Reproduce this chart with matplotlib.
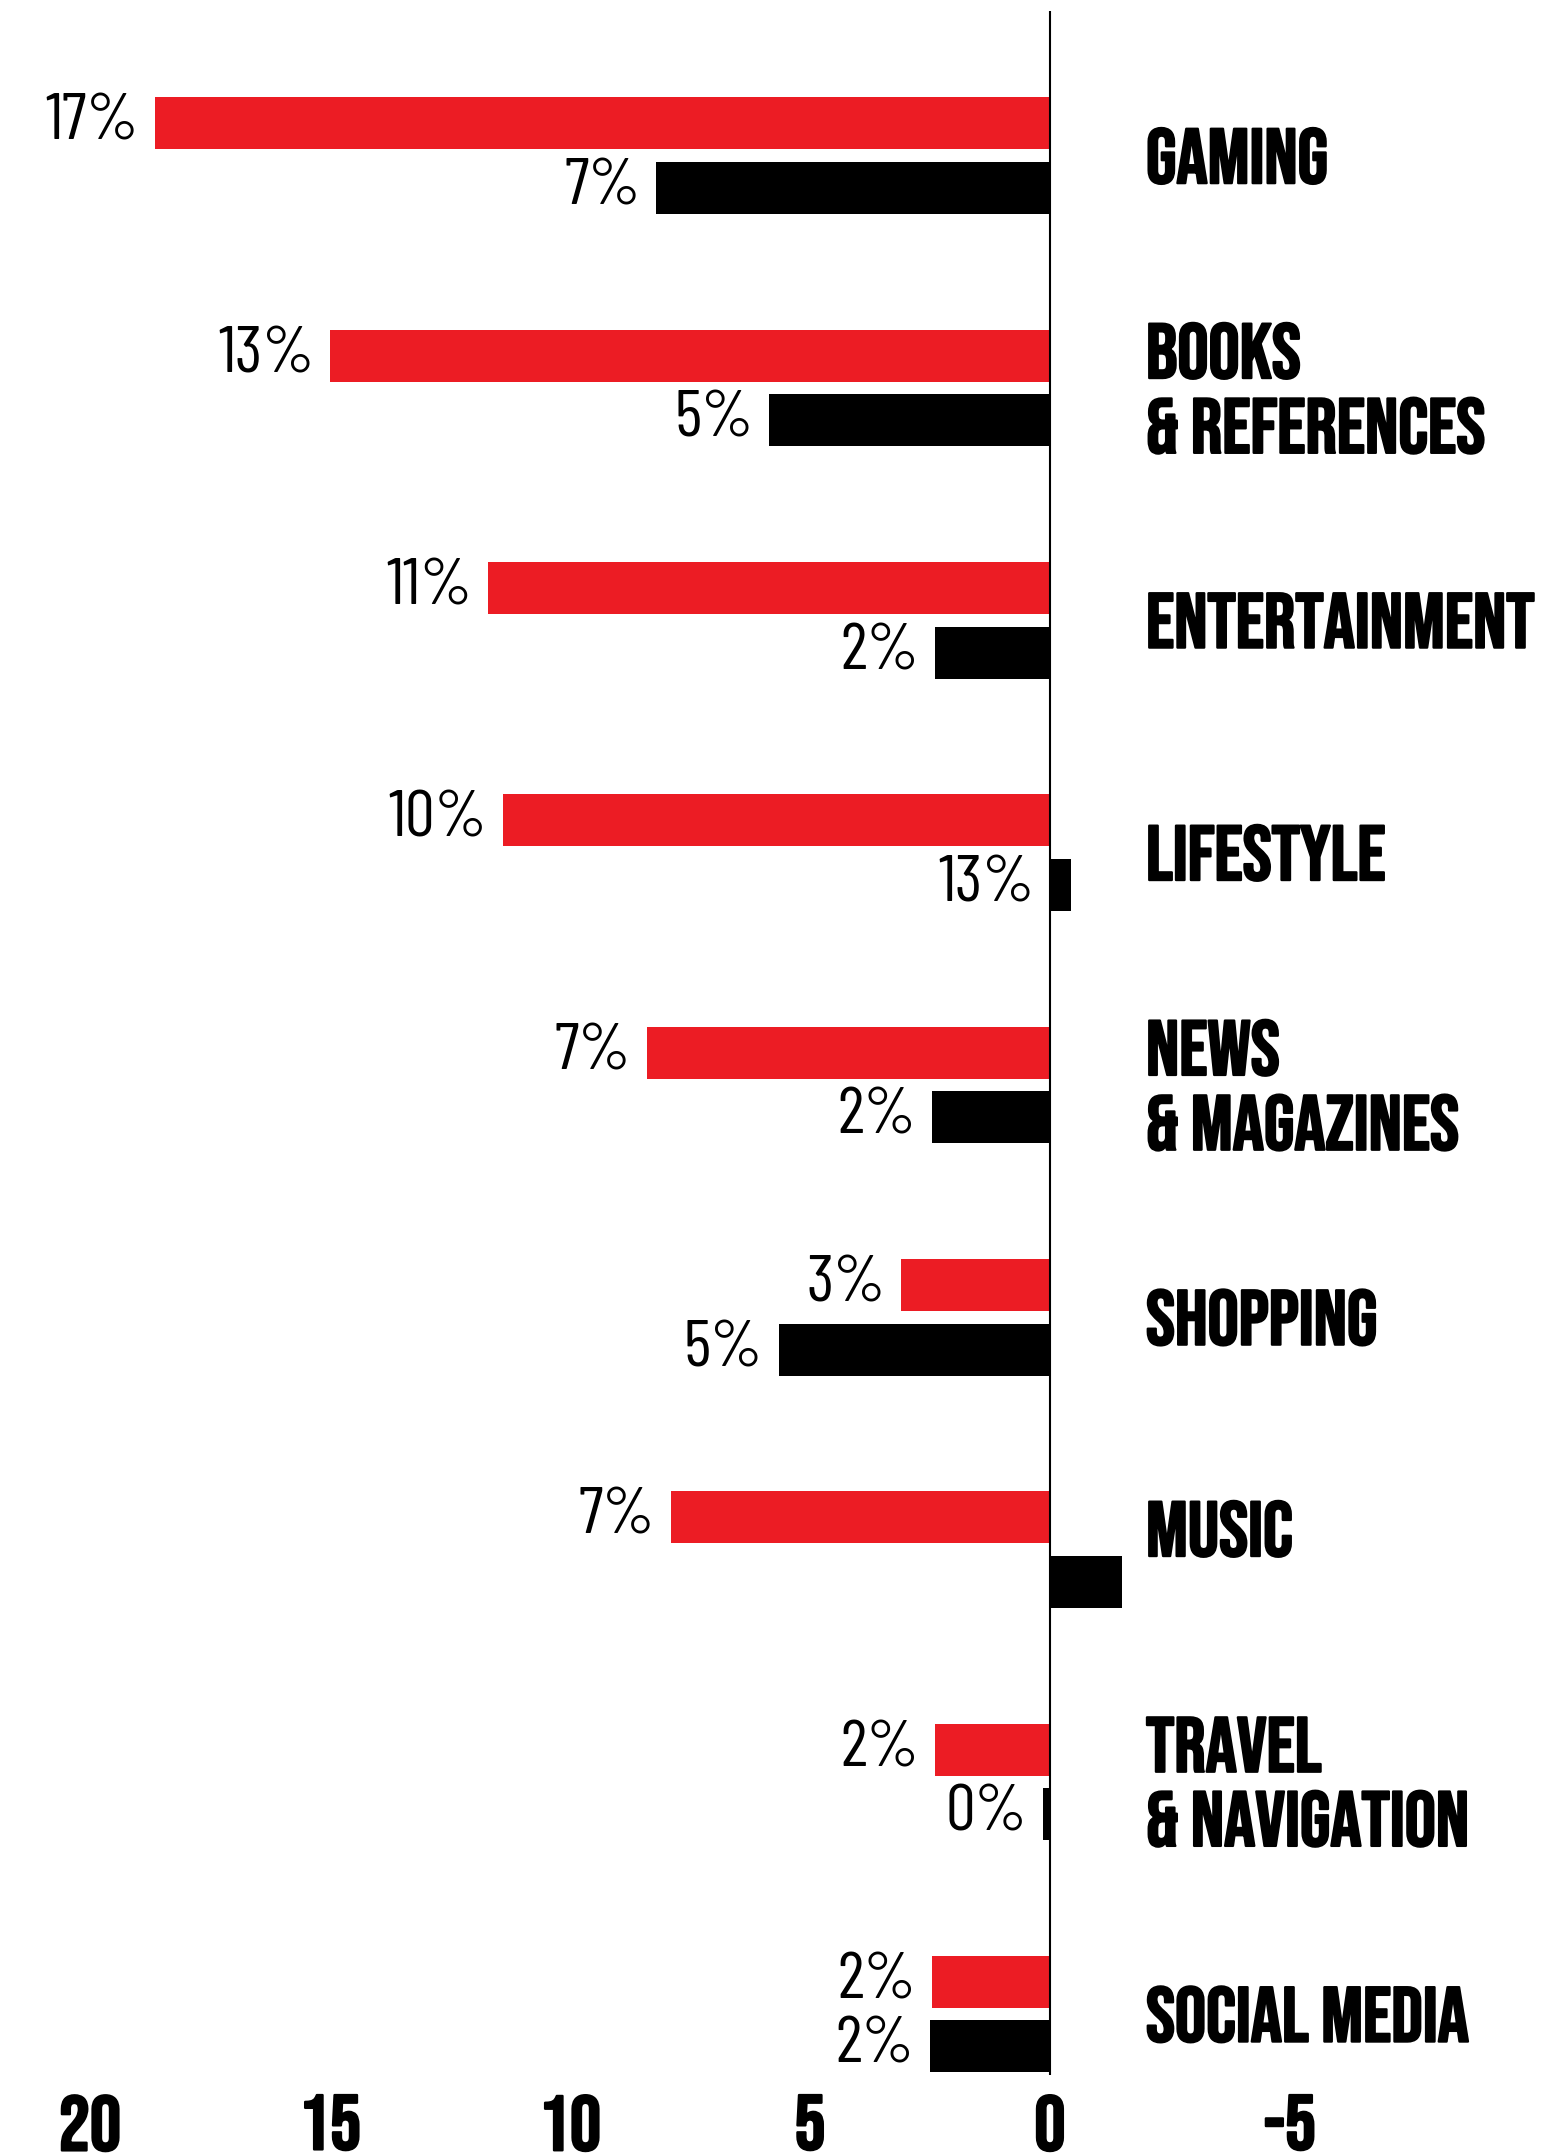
import matplotlib
matplotlib.use("Agg")
import matplotlib.pyplot as plt
import matplotlib.patheffects as pe
import numpy as np
from matplotlib import font_manager

# data (bar lengths on the axis scale, printed labels as shown)
categories = ["GAMING", "BOOKS\n& REFERENCES", "ENTERTAINMENT", "LIFESTYLE",
              "NEWS\n& MAGAZINES", "SHOPPING", "MUSIC", "TRAVEL\n& NAVIGATION",
              "SOCIAL MEDIA"]
red_values = [18.65, 15.0, 11.7, 11.4, 8.4, 3.1, 7.9, 2.4, 2.45]
black_values = [8.2, 5.85, 2.4, -0.43, 2.45, 5.65, -1.5, 0.15, 2.5]
red_labels = ["17%", "13%", "11%", "10%", "7%", "3%", "7%", "2%", "2%"]
black_labels = ["7%", "5%", "2%", "13%", "2%", "5%", "", "0%", "2%"]
xticks = [20, 15, 10, 5, 0, -5]

RED = "#EC1C24"
BLACK = "#000000"

# condensed fonts if present, plain Liberation otherwise
names = {f.name for f in font_manager.fontManager.ttflist}
heavy = [pe.withStroke(linewidth=1.6, foreground="black")]
if "Bebas Neue" in names:
    head = dict(family=["Bebas Neue", "DejaVu Sans"], fontweight="normal", fontsize=56)
    head_ls = 1.32
else:
    head = dict(family=["Liberation Sans", "DejaVu Sans"], fontweight="bold", fontsize=40)
    head_ls = 0.95
if "Barlow Condensed" in names:
    num = dict(family=["Barlow Condensed", "DejaVu Sans"], fontweight="normal", fontsize=48)
else:
    num = dict(family=["Liberation Sans", "DejaVu Sans"], fontweight="normal", fontsize=44)

# MUSIC sits a little higher than its bar pair
label_nudge = {"MUSIC": -0.09}

W, H = 1558, 2155
fig = plt.figure(figsize=(W / 100, H / 100), dpi=100)
ax = fig.add_axes([0, 1 - 2075 / H, 1, (2075 - 11) / H])

y = np.arange(len(categories))
bar_h = 0.224
off = 0.139

ax.barh(y - off, red_values, height=bar_h, color=RED, clip_on=False)
ax.barh(y + off, black_values, height=bar_h, color=BLACK, clip_on=False)
ax.axvline(0, color="black", lw=1.5)

ax.set_xlim(21.875, -10.583)
ax.set_ylim(8.262, -0.623)

pad = 0.33
for yi, v, lab in zip(y - off, red_values, red_labels):
    ax.text(max(v, 0) + pad, yi, lab, ha="right", va="center", color="black", **num)
for yi, v, lab in zip(y + off, black_values, black_labels):
    if lab:
        ax.text(max(v, 0) + pad, yi, lab, ha="right", va="center", color="black", **num)

for yi, cat in zip(y, categories):
    ax.text(-2.0, yi + label_nudge.get(cat, 0), cat, ha="left", va="center",
            linespacing=head_ls, color="black", path_effects=heavy, **head)

ax.set_xticks(xticks)
ax.set_xticklabels([str(t) for t in xticks], **head)
for t in ax.get_xticklabels():
    t.set_path_effects(heavy)
ax.tick_params(axis="x", length=0, pad=14)
ax.set_yticks([])
for s in ax.spines.values():
    s.set_visible(False)

fig.savefig("out.png", dpi=100, facecolor="white")
